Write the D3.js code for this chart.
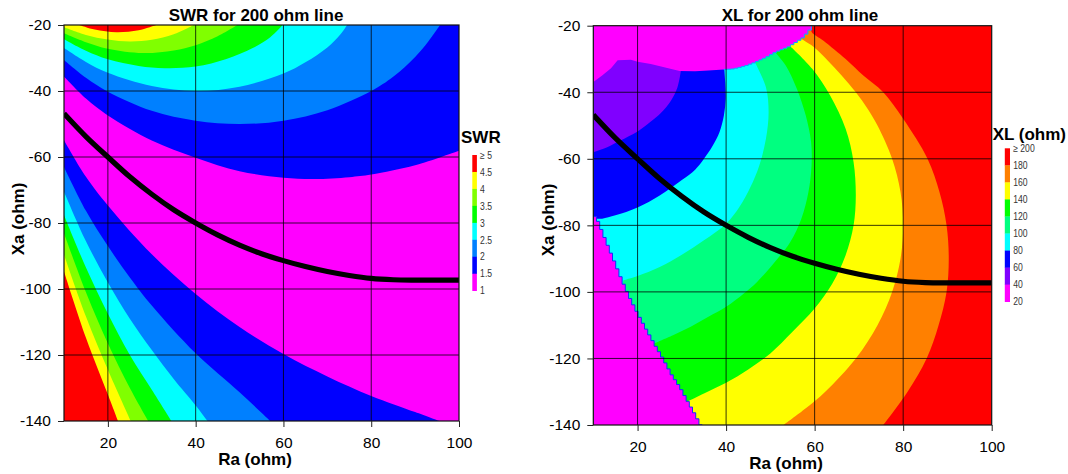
<!DOCTYPE html>
<html><head><meta charset="utf-8">
<script src="https://cdn.jsdelivr.net/npm/d3@7"></script>
<style>
html,body{margin:0;padding:0;background:#fff;}
svg{display:block;font-family:"Liberation Sans",Arial,Helvetica,sans-serif;}
</style></head><body>
<svg id="chart" width="1068" height="474"></svg>
<script>
// ---------- axes ----------
const raTicks = [20, 40, 60, 80, 100];
const xaTicks = [-20, -40, -60, -80, -100, -120, -140];

// ---------- optimum (black) curve ----------
const blackRa = [10, 15, 20, 25, 30, 35, 40, 45, 50, 55, 60, 65, 70, 75, 80, 85, 90, 95, 100];
const blackXa = [-46.8, -53.8, -60, -66, -71.3, -76, -80, -83.6, -86.7, -89.3, -91.4, -93.2, -94.7, -95.9, -96.8, -97.2, -97.3, -97.3, -97.3];

// ---------- SWR legend ----------
const swrLabels = ["\u2265 5", "4.5", "4", "3.5", "3", "2.5", "2", "1.5", "1"];
const swrColors = ["#ff0000", "#ffff00", "#80ff00", "#00ff00", "#00ffff", "#0080ff", "#0000ff", "#ff00ff"];

// SWR contour boundaries [Ra, Xa] (upper family: from left edge toward top/right edge)
const swrUpper15 = [[10,-35.6],[15,-42.3],[20,-47.4],[30,-55],[40,-60.2],[50,-64.3],[60,-66.3],[67,-66.7],[75,-66.1],[80,-65.3],[90,-62.5],[100,-58.1]];
const swrUpper20 = [[10,-30.6],[15,-36],[20,-40.2],[30,-46],[40,-49],[50,-50],[60,-49],[70,-45.8],[80,-40],[85,-35.7],[90,-29.7],[93,-25],[95.7,-20]];
const swrUpper25 = [[10,-27],[15,-31.2],[20,-34.5],[30,-38.5],[40,-40],[50,-38.7],[60,-34.7],[65,-31.3],[70,-26.8],[73,-22.8],[74.5,-20]];
const swrUpper30 = [[10,-24.3],[15,-27.8],[20,-30.4],[27,-32.4],[33,-33.1],[40,-32.6],[47,-30.3],[53,-27],[57,-23.7],[59.8,-20]];
const swrUpper35 = [[10,-22.5],[15,-25.2],[20,-27.2],[28,-28.5],[35,-27.7],[40,-26.1],[45,-23.4],[49.5,-20]];
const swrUpper40 = [[10,-20.7],[15,-23],[20,-24.4],[25,-25],[30,-24.5],[35,-22.8],[39.6,-20]];
const swrUpper45 = [[13.5,-20],[17,-21.4],[22,-22.2],[27,-21.6],[31,-20]];
// lower family: from left edge toward bottom edge
const swrLower15 = [[10,-54.9],[15,-66],[20,-74.7],[30,-89.5],[40,-101.5],[50,-111.5],[60,-119.7],[70,-126.5],[80,-132.4],[90,-137.3],[95.5,-140]];
const swrLower20 = [[10,-63],[15,-76.3],[20,-87],[25,-96.5],[30,-105],[40,-119.5],[50,-131.3],[57,-140]];
const swrLower25 = [[10,-70.5],[15,-85.5],[20,-98],[25,-109],[30,-118.5],[35,-127.3],[40,-135.3],[42.7,-140]];
const swrLower30 = [[10,-77.6],[15,-93.5],[20,-107.5],[25,-120],[30,-130.5],[34.5,-140]];
const swrLower35 = [[10,-83.1],[15,-101],[20,-116.5],[25,-130],[29.2,-140]];
const swrLower40 = [[10,-89.6],[15,-108.3],[20,-124.5],[25.2,-140]];
const swrLower45 = [[10,-94.7],[15,-114.8],[20,-132],[22.3,-140]];

// ---------- XL legend ----------
const xlLabels = ["\u2265 200", "180", "160", "140", "120", "100", "80", "60", "40", "20"];
const xlColors = ["#ff0000", "#ff8000", "#ffff00", "#00ff00", "#00ff80", "#00ffff", "#0000ff", "#8000ff", "#ff00ff"];

// XL region edges [Ra, Xa]
const xlEdgeTop = [[10,-36.9],[12,-35],[14,-32.8],[15.5,-30.4],[18.5,-30.2],[20,-30.8],[23,-31.5],[26,-32.5],[29.5,-33.6],[33,-33.7],[36,-33.5],[39.5,-33.2],[42,-33],[44.5,-32.2],[47,-31],[49.5,-29.5],[51.5,-28],[54.6,-26.3],[57.6,-23.8],[59.2,-21.5],[59.8,-20]];
const xlEdgeLow = [[10,-76.4],[11.2,-78],[13,-84],[15,-90.5],[16.8,-96.4],[18.5,-101.5],[20.3,-106.3],[22,-110.5],[24.3,-116],[26,-119.8],[28.1,-125],[30,-128.8],[31.6,-132.7],[33,-136],[34.6,-140]];
// XL contour boundaries (from upper end toward lower end)
const xl60  = [[29.8,-33.4],[29,-38.6],[27.5,-42.6],[25.2,-46.3],[23,-48.8],[20,-51.8],[16,-54.6],[13,-56.6],[10,-58]];
const xl80  = [[39.6,-33],[39.8,-37],[39.9,-42],[39.5,-47],[38.5,-52],[37,-56],[35,-60],[33,-63.3],[30,-66.4],[25,-71],[20,-74.6],[15,-77],[12,-78],[10.5,-78]];
const xl100 = [[46.5,-31],[49,-38.5],[49.6,-46],[49,-54],[47.5,-62],[45.5,-68.5],[43,-74.5],[40,-79.5],[35,-84.5],[30,-88.8],[25,-92.5],[20,-95.2],[16.8,-96.5]];
const xl120 = [[51,-27.8],[53.5,-32],[56,-39],[58,-47],[59.2,-55],[59.3,-62],[58.6,-70],[57,-78],[54.5,-85],[51,-91],[47,-97],[44,-100.5],[40,-104.5],[36,-107.5],[32,-110.5],[28,-113],[23.7,-115.5]];
const xl140 = [[54.6,-26.3],[59.5,-33],[63.5,-41],[67,-51],[68.8,-61],[69.3,-71],[68.8,-80],[67,-89],[64,-97.5],[60,-105],[55,-112],[50,-118.5],[45,-123.3],[40,-127.3],[35,-130.5],[31.6,-132.7]];
const xl160 = [[57.1,-24.1],[60,-26.6],[63,-30.5],[66,-34.8],[69.3,-40],[72,-45],[74.2,-50],[77.5,-60],[79.4,-70],[80,-80],[79.4,-90],[77.5,-100],[74.2,-110],[69.3,-120],[62.4,-130],[58,-135],[53,-140]];
const xl180 = [[59.3,-20],[59.3,-21.8],[62,-24.5],[67,-30],[71,-35],[75.5,-40],[80,-48],[85.5,-60],[88.2,-70],[89.8,-80],[90.3,-90],[89.8,-100],[88,-110],[85.3,-120],[81,-130],[75.5,-140]];

// ---------- drawing ----------
const svg = d3.select("#chart");
const defs = svg.append("defs");

function makePanel(cfg) {
  const g = svg.append("g");
  const x = d3.scaleLinear().domain([10, 100]).range([cfg.left, cfg.right]);
  const y = d3.scaleLinear().domain([-20, -140]).range([cfg.top, cfg.bottom]);
  defs.append("clipPath").attr("id", cfg.id).append("rect")
    .attr("x", cfg.left).attr("y", cfg.top)
    .attr("width", cfg.right - cfg.left).attr("height", cfg.bottom - cfg.top);
  const plot = g.append("g").attr("clip-path", `url(#${cfg.id})`);
  const smooth = d3.line().x(d => x(d[0])).y(d => y(d[1])).curve(d3.curveCatmullRom.alpha(0.5));
  const straight = d3.line().x(d => x(d[0])).y(d => y(d[1]));
  const region = (curve, close, gen) => (gen || smooth)(curve) + close.map(p => `L${x(p[0])},${y(p[1])}`).join("") + "Z";
  // pixel staircase along a polyline whose Ra increases (mimics the gridded contour edge)
  const stepped = (pts, dx) => {
    const P = pts.map(p => [x(p[0]), y(p[1])]);
    const yAt = px => {
      for (let i = 1; i < P.length; i++) {
        if (px <= P[i][0]) { const t = (px - P[i-1][0]) / (P[i][0] - P[i-1][0]); return P[i-1][1] + t * (P[i][1] - P[i-1][1]); }
      }
      return P[P.length - 1][1];
    };
    let d = `M${P[0][0]},${P[0][1]}`, px = P[0][0];
    const end = P[P.length - 1][0];
    while (px < end - 0.01) { const nx = Math.min(px + dx, end); d += `V${yAt(nx)}H${nx}`; px = nx; }
    return d;
  };
  return { g, x, y, plot, smooth, straight, region, stepped, cfg };
}

function finishPanel(P, t) {
  const { g, x, y, plot, cfg } = P;
  const grid = g.append("g").attr("stroke", "#000").attr("stroke-opacity", 0.78).attr("stroke-width", 1);
  [20, 40, 60, 80].forEach(v => grid.append("line").attr("x1", x(v)).attr("x2", x(v)).attr("y1", cfg.top).attr("y2", cfg.bottom));
  [-40, -60, -80, -100, -120].forEach(v => grid.append("line").attr("x1", cfg.left).attr("x2", cfg.right).attr("y1", y(v)).attr("y2", y(v)));
  const pts = blackRa.map((r, i) => [r, blackXa[i]]);
  plot.append("path").attr("d", P.smooth(pts)).attr("fill", "none").attr("stroke", "#000").attr("stroke-width", 5.2);
  g.append("rect").attr("x", cfg.left).attr("y", cfg.top).attr("width", cfg.right - cfg.left).attr("height", cfg.bottom - cfg.top)
    .attr("fill", "none").attr("stroke", "#111").attr("stroke-width", 1.2);
  const ax = g.append("g").attr("transform", `translate(0,${cfg.bottom})`)
    .call(d3.axisBottom(x).tickValues(raTicks).tickSize(6).tickSizeOuter(0).tickFormat(d => String(d)));
  ax.select(".domain").remove();
  ax.selectAll("text").attr("y", cfg.xLabOff).attr("dy", null).attr("font-size", 15.5).attr("fill", "#000").attr("font-family", null);
  const ay = g.append("g").attr("transform", `translate(${cfg.left},0)`)
    .call(d3.axisLeft(y).tickValues(xaTicks).tickSize(6).tickPadding(7).tickSizeOuter(0).tickFormat(d => String(d)));
  ay.select(".domain").remove();
  ay.selectAll("text").attr("font-size", 15.5).attr("fill", "#000").attr("font-family", null);
  g.selectAll(".tick line").attr("stroke", "#222");
  g.append("text").attr("x", t.titleX).attr("y", t.titleY).attr("text-anchor", "middle")
    .attr("font-weight", "bold").attr("font-size", 17).text(t.title);
  g.append("text").attr("x", t.raX).attr("y", t.raY).attr("text-anchor", "middle")
    .attr("font-weight", "bold").attr("font-size", 17).text("Ra (ohm)");
  g.append("text").attr("transform", `translate(${t.xaX},${t.xaY}) rotate(-90)`).attr("text-anchor", "middle")
    .attr("font-weight", "bold").attr("font-size", 17).text("Xa (ohm)");
  g.append("text").attr("x", t.legX).attr("y", t.legY).attr("font-weight", "bold").attr("font-size", 17).text(t.legTitle);
  const n = t.colors.length, h = (t.cbY1 - t.cbY0) / n;
  t.colors.forEach((c, i) => g.append("rect").attr("x", t.cbX).attr("y", t.cbY0 + i * h).attr("width", t.cbW).attr("height", h + 0.3).attr("fill", c));
  t.labels.forEach((s, i) => g.append("text")
    .attr("transform", `translate(${t.cbX + t.cbW + 3.2},${t.cbY0 + i * h}) scale(0.82,1)`)
    .attr("dy", "0.35em").attr("font-size", 10.5).attr("fill", "#333").text(s));
}

// ----- SWR panel -----
const A = makePanel({ id: "clipA", left: 64, right: 459, top: 25, bottom: 421, xLabOff: 26.8 });
A.plot.append("rect").attr("x", 64).attr("y", 25).attr("width", 395).attr("height", 396).attr("fill", swrColors[7]);
const upperCurves = [swrUpper15, swrUpper20, swrUpper25, swrUpper30, swrUpper35, swrUpper40, swrUpper45];
const lowerCurves = [swrLower15, swrLower20, swrLower25, swrLower30, swrLower35, swrLower40, swrLower45];
upperCurves.forEach((c, i) => A.plot.append("path").attr("d", A.region(c, [[100, -20], [10, -20]])).attr("fill", swrColors[6 - i]));
lowerCurves.forEach((c, i) => A.plot.append("path").attr("d", A.region(c, [[10, -140]])).attr("fill", swrColors[6 - i]));
finishPanel(A, {
  title: "SWR for 200 ohm line", titleX: 256, titleY: 20.5,
  raX: 255, raY: 465, xaX: 23.5, xaY: 219,
  legTitle: "SWR", legX: 461, legY: 143.3,
  colors: swrColors, labels: swrLabels, cbX: 472.3, cbW: 4.6, cbY0: 155, cbY1: 290.7
});

// ----- XL panel -----
const B = makePanel({ id: "clipB", left: 593.3, right: 991.7, top: 25.7, bottom: 425, xLabOff: 26.6 });
B.plot.append("rect").attr("x", 593.3).attr("y", 25.7).attr("width", 398.4).attr("height", 399.3).attr("fill", xlColors[0]);
const xlCurves = [xl180, xl160, xl140, xl120, xl100, xl80, xl60];
xlCurves.forEach((c, i) => B.plot.append("path").attr("d", B.region(c, [[10, -140], [10, -20]])).attr("fill", xlColors[i + 1]));
// top no-solution region: smooth-ish left part, stepped right part
const topLeftPart = xlEdgeTop.filter(p => p[0] <= 39.5);
const topRightPart = xlEdgeTop.filter(p => p[0] >= 39.5);
const topStep = B.stepped(topRightPart, 3.5);
B.plot.append("path").attr("d", B.straight(topLeftPart) + topStep.replace(/^M/, "L") + `L${B.x(10)},${B.y(-20)}Z`).attr("fill", xlColors[8]);
B.plot.append("path").attr("d", topStep).attr("fill", "none").attr("stroke", "#00b0ff").attr("stroke-width", 1);
const lowStep = B.stepped(xlEdgeLow, 3.2);
B.plot.append("path").attr("d", lowStep + `L${B.x(10)},${B.y(-140)}Z`).attr("fill", xlColors[8]);
B.plot.append("path").attr("d", lowStep).attr("fill", "none").attr("stroke", "#1030ff").attr("stroke-width", 1);
finishPanel(B, {
  title: "XL for 200 ohm line", titleX: 800, titleY: 20.7,
  raX: 786, raY: 469, xaX: 553.5, xaY: 220,
  legTitle: "XL (ohm)", legX: 992.7, legY: 140,
  colors: xlColors, labels: xlLabels, cbX: 1004.8, cbW: 5.2, cbY0: 148.3, cbY1: 301.7
});
</script></body></html>
